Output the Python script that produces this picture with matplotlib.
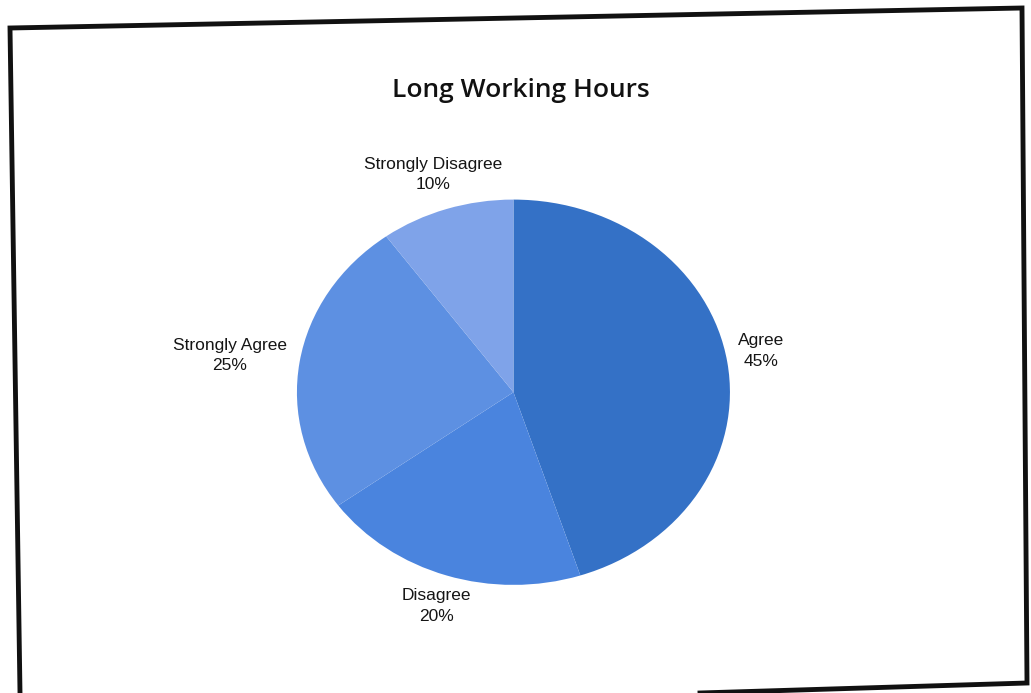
import matplotlib.pyplot as plt
from matplotlib.lines import Line2D

labels = ['Agree', 'Disagree', 'Strongly Agree', 'Strongly Disagree']
shares = [45, 20, 25, 10]
colors = ['#3471c6', '#4a84de', '#5d90e2', '#7fa3e9']

fig = plt.figure(figsize=(10.31, 6.93), dpi=100)
fig.patch.set_facecolor('white')

# photo frame around the chart (figure pixels -> fractions)
frame_px = [(700, 693), (1027, 683), (1022, 8), (10, 28), (20, 693)]
fx = [p[0] / 1031 for p in frame_px]
fy = [1 - p[1] / 693 for p in frame_px]
fig.add_artist(Line2D(fx, fy, transform=fig.transFigure,
                      color='#111111', lw=3.5, solid_joinstyle='miter'))

ax = fig.add_axes([0.288, 0.156, 0.420, 0.556])
wedges, _ = ax.pie(shares, colors=colors, startangle=90, counterclock=False,
                   wedgeprops=dict(linewidth=0))
ax.set_aspect('auto')
ax.set_xlim(-1, 1)
ax.set_ylim(-1, 1)
ax.axis('off')

# label anchor points (axes data units)
label_pos = [(1.145, 0.215), (-0.356, -1.11), (-1.31, 0.19), (-0.37, 1.13)]
for name, val, (lx, ly) in zip(labels, shares, label_pos):
    ax.text(lx, ly, f'{name}\n{val}%', ha='center', va='center',
            fontsize=12.5, family='Liberation Sans', color='#151515',
            linespacing=1.45, clip_on=False)

fig.text(0.505, 0.869, 'Long Working Hours', ha='center', va='center',
         fontsize=19, fontweight='semibold', family='Open Sans', color='#111111')

fig.savefig('out.png', dpi=100)
